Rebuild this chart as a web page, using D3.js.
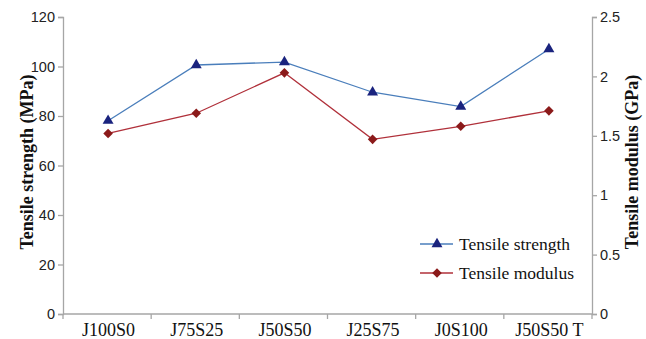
<!DOCTYPE html>
<html><head><meta charset="utf-8">
<script src="https://cdn.jsdelivr.net/npm/d3@7"></script>
<style>body{margin:0;background:#fff}svg{display:block}</style>
</head><body>
<svg id="c" width="646" height="339"></svg>
<script>
const categories = ["J100S0","J75S25","J50S50","J25S75","J0S100","J50S50 T"];
const strength = [78.1,100.6,101.8,89.6,83.8,107.0];
const modulus = [1.52,1.69,2.03,1.47,1.58,1.71];
const leftTicks = [0,20,40,60,80,100,120];
const rightTicks = [0,0.5,1,1.5,2,2.5];

const svg = d3.select("#c");
const m = {l:63, r:592, t:17, b:314};
const x = d3.scaleBand().domain(categories).range([m.l,m.r]);
const yL = d3.scaleLinear().domain([0,120]).range([m.b,m.t]);
const yR = d3.scaleLinear().domain([0,2.5]).range([m.b,m.t]);
const axisColor = "#a6a6a6";
const serif = "'Liberation Serif','Times New Roman',serif";

// left axis
const gL = svg.append("g").attr("transform",`translate(${m.l},0)`)
  .call(d3.axisLeft(yL).tickValues(leftTicks).tickSize(5).tickPadding(3).tickFormat(d3.format("d")));
// right axis
const gR = svg.append("g").attr("transform",`translate(${m.r},0)`)
  .call(d3.axisRight(yR).tickValues(rightTicks).tickSize(5).tickPadding(3).tickFormat(d=>String(d)));
[gL,gR].forEach(g=>{
  g.select(".domain").attr("stroke",axisColor).attr("stroke-width",1.3);
  g.selectAll(".tick line").attr("stroke",axisColor).attr("stroke-width",1.3);
  g.selectAll(".tick text").attr("fill","#222").style("font-family","'Liberation Sans',Arial,sans-serif").style("font-size","14.5px");
});
// x axis
const gX = svg.append("g").attr("transform",`translate(0,${m.b})`);
gX.append("line").attr("x1",m.l).attr("x2",m.r).attr("stroke",axisColor).attr("stroke-width",1.3);
const bounds = categories.map(c=>x(c)).concat([m.r]);
gX.selectAll("line.t").data(bounds).join("line").attr("class","t")
  .attr("x1",d=>d).attr("x2",d=>d).attr("y1",0).attr("y2",5).attr("stroke",axisColor).attr("stroke-width",1.3);
gX.selectAll("text").data(categories).join("text")
  .attr("x",d=>x(d)+x.bandwidth()/2+1.5).attr("y",22).attr("text-anchor","middle")
  .style("font-family",serif).style("font-size","18px").attr("fill","#111").text(d=>d);

// axis titles
svg.append("text").attr("transform",`translate(33,162) rotate(-90)`).attr("text-anchor","middle")
  .style("font-family",serif).style("font-size","18px").style("font-weight","bold").attr("fill","#111")
  .text("Tensile strength (MPa)");
svg.append("text").attr("transform",`translate(638,162) rotate(-90)`).attr("text-anchor","middle")
  .style("font-family",serif).style("font-size","18px").style("font-weight","bold").attr("fill","#111")
  .text("Tensile modulus (GPa)");

const cx = d=>x(d)+x.bandwidth()/2 + 1;
const blueLine="#4a7ebb", blueMark="#1a237e", redLine="#b0303a", redMark="#8b1a1a";
const tri = d3.symbol().type(d3.symbolTriangle).size(52);
const dia = d3.symbol().type(d3.symbolSquare).size(46);

svg.append("path").datum(categories.map((c,i)=>[cx(c),yL(strength[i])]))
  .attr("d",d3.line()).attr("fill","none").attr("stroke",blueLine).attr("stroke-width",1.3);
svg.append("path").datum(categories.map((c,i)=>[cx(c),yR(modulus[i])]))
  .attr("d",d3.line()).attr("fill","none").attr("stroke",redLine).attr("stroke-width",1.3);
svg.selectAll("path.tri").data(categories).join("path").attr("class","tri")
  .attr("d",tri).attr("transform",(c,i)=>`translate(${cx(c)},${yL(strength[i])})`).attr("fill",blueMark);
svg.selectAll("path.dia").data(categories).join("path").attr("class","dia")
  .attr("d",dia).attr("transform",(c,i)=>`translate(${cx(c)},${yR(modulus[i])}) rotate(45)`).attr("fill",redMark);

// legend
const leg = [{name:"Tensile strength",line:blueLine,mark:blueMark,sym:tri,rot:0,y:244},
             {name:"Tensile modulus",line:redLine,mark:redMark,sym:dia,rot:45,y:273}];
const lg = svg.append("g");
leg.forEach(l=>{
  lg.append("line").attr("x1",420).attr("x2",453).attr("y1",l.y).attr("y2",l.y).attr("stroke",l.line).attr("stroke-width",1.3);
  lg.append("path").attr("d",l.sym).attr("transform",`translate(437,${l.y}) rotate(${l.rot})`).attr("fill",l.mark);
  lg.append("text").attr("x",459).attr("y",l.y+6).style("font-family",serif)
    .style("font-size","17.5px").attr("fill","#111").text(l.name);
});
</script>
</body></html>
